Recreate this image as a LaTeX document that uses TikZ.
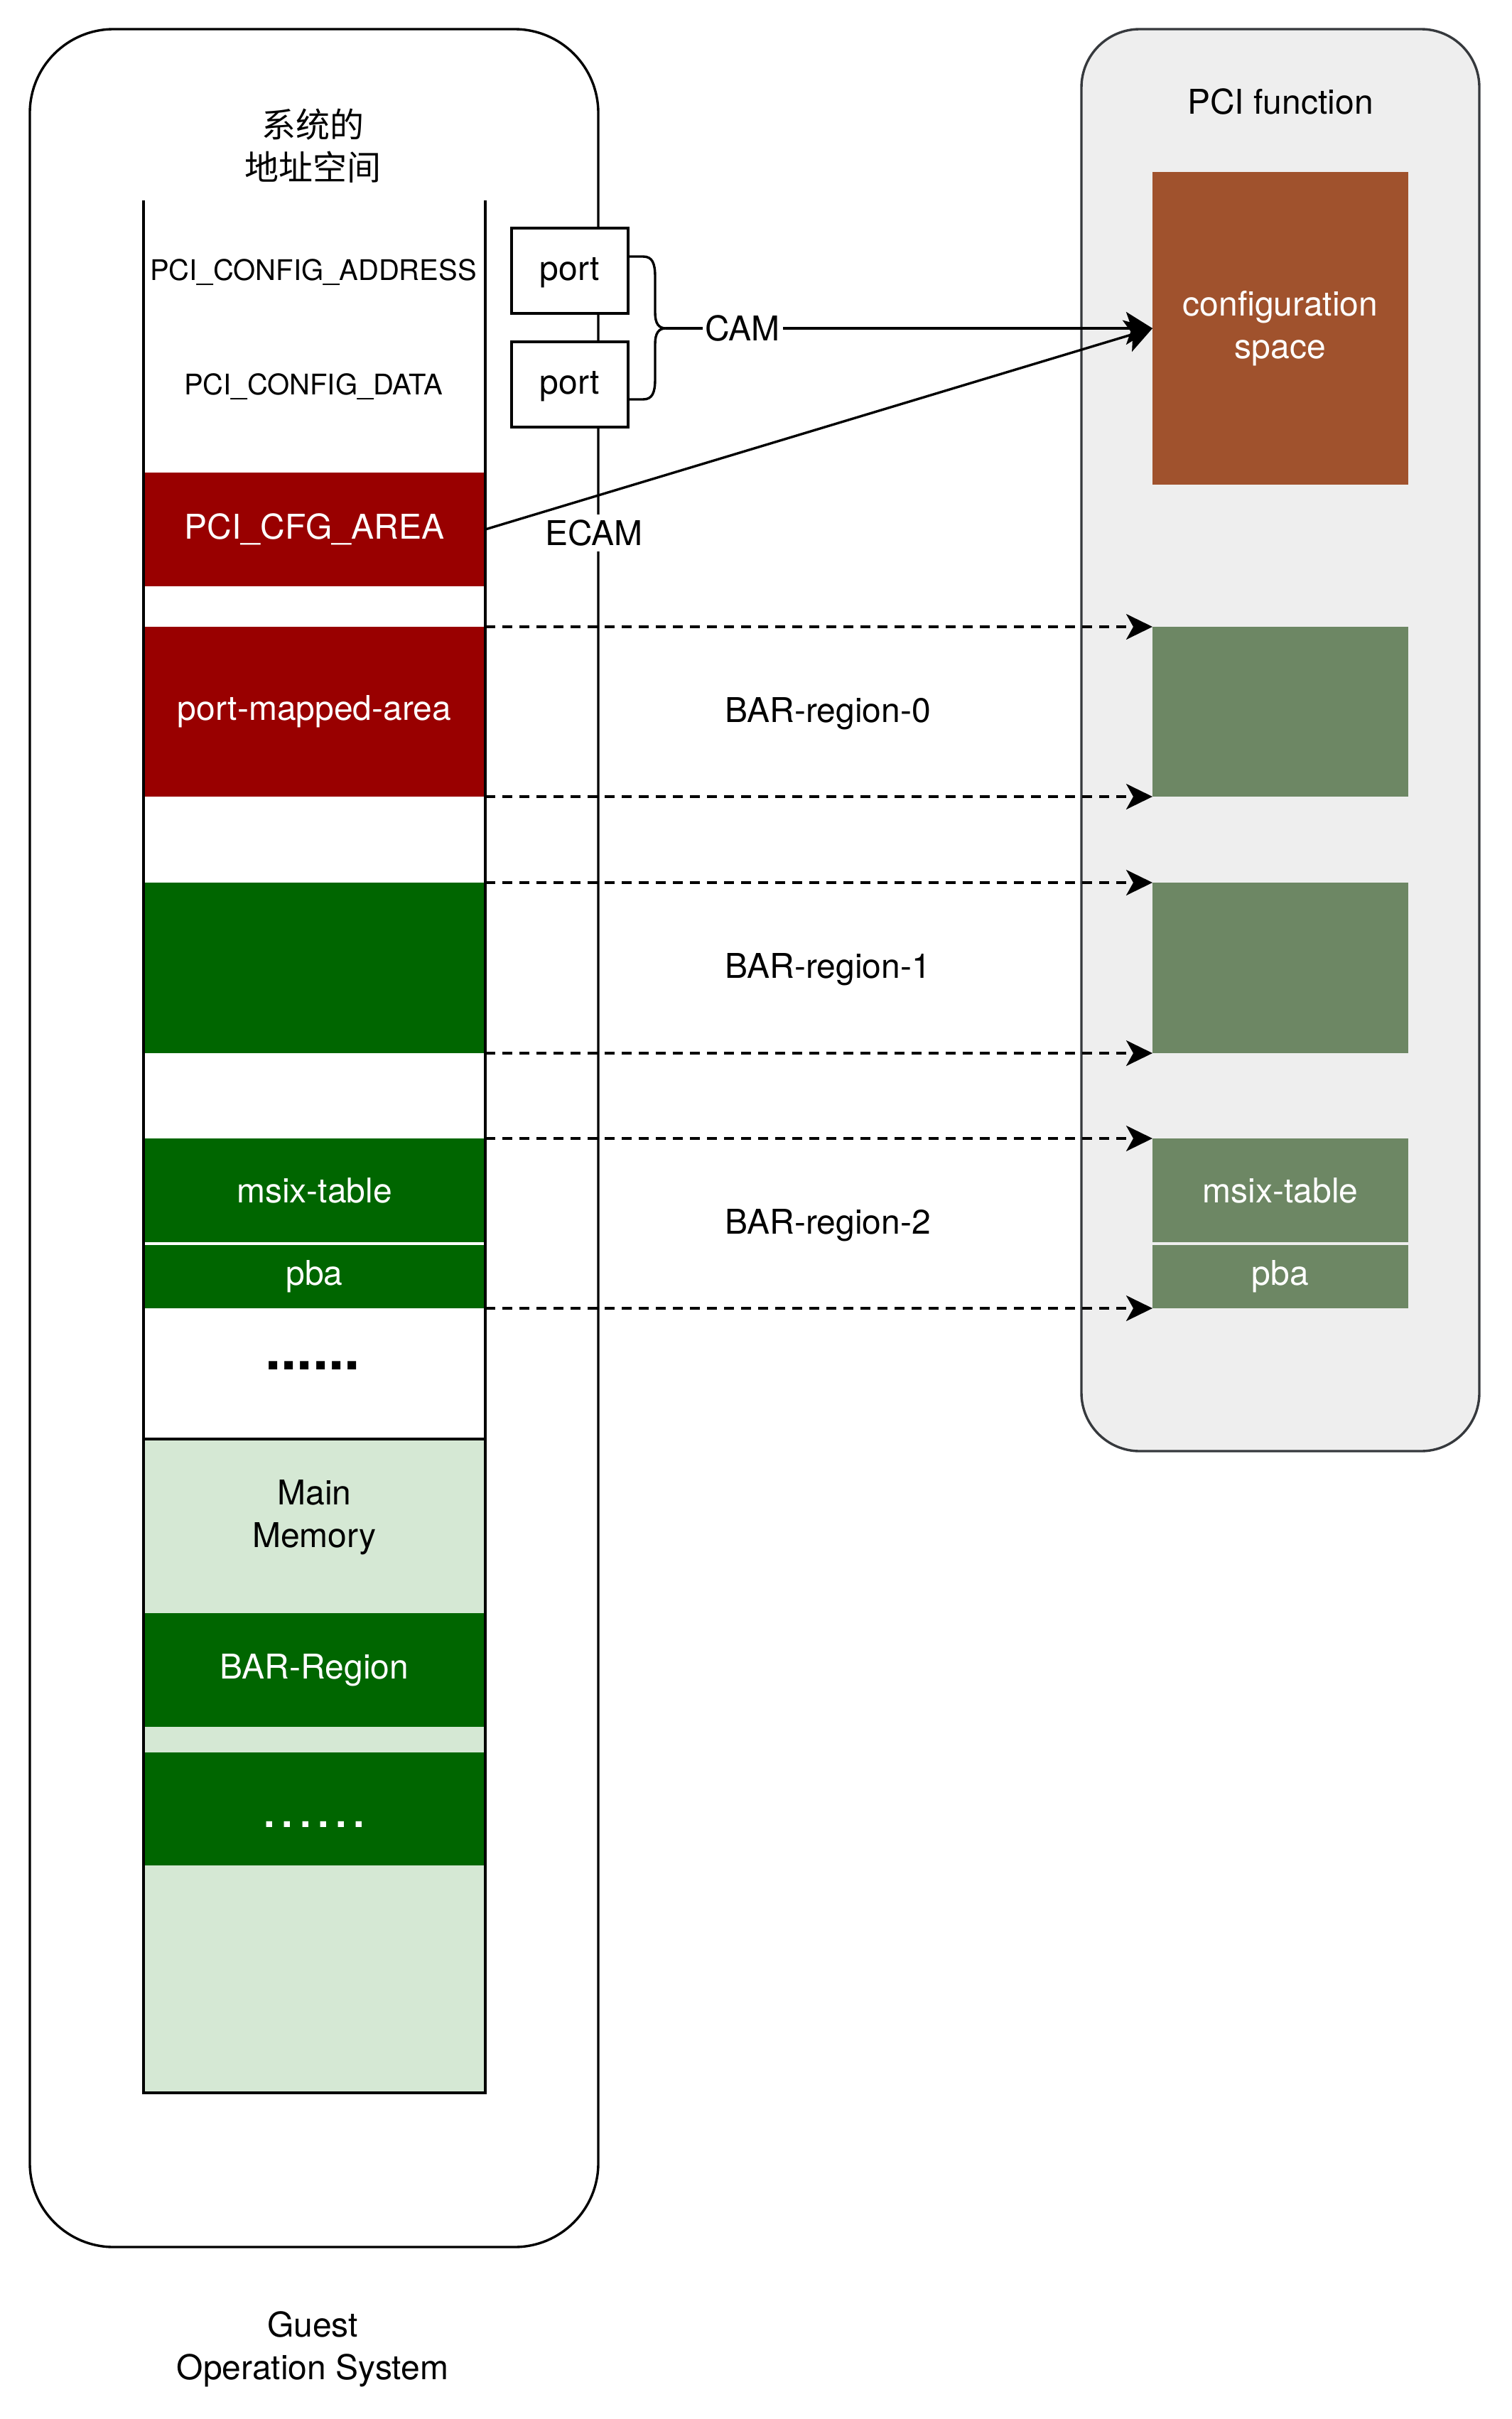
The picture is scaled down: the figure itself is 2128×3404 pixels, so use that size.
\documentclass[tikz,border=0pt]{standalone}
\usepackage{fontspec}
\setmainfont{TeX Gyre Heros}
\newfontfamily\cjk{Noto Sans CJK SC}
\usetikzlibrary{arrows.meta,positioning}

\definecolor{cfgred}{HTML}{990000}
\definecolor{bargreen}{HTML}{006600}
\definecolor{memgreen}{HTML}{D5E8D4}
\definecolor{cfgbrown}{HTML}{A0522D}
\definecolor{fngreen}{HTML}{6D8764}
\definecolor{fngray}{HTML}{EEEEEE}
\definecolor{fnedge}{HTML}{36393D}

\begin{document}
\begin{tikzpicture}[x=0.25pt, y=-0.25pt, line width=0.85pt,
                    font=\fontsize{12}{15}\selectfont]
        \tikzstyle{band} = [rectangle, inner sep=0pt, outer sep=0pt, text=white,
                                                       minimum width=120.25pt]
        \tikzstyle{fnbox} = [rectangle, inner sep=0pt, outer sep=0pt, text=white,
                             fill=fngreen, minimum width=90pt, node distance=339.875pt]
        \tikzstyle{portbox} = [rectangle, draw=black, fill=white, inner sep=0pt,
                               minimum width=41pt, minimum height=30pt,
                               text height=8pt, text depth=1.5pt]
        \tikzstyle{lbl} = [fill=white, inner sep=1pt]
        \tikzstyle{camarrow} = [-{Stealth[length=9.25pt, width=11.5pt, inset=2pt]}]
        \tikzstyle{bararrow} = [-{Stealth[length=9.25pt, width=9pt, inset=2.5pt]},
                                dash pattern=on 3.5pt off 2.5pt]

        \useasboundingbox (0,0) rectangle (2128,3404);

        % containers
        \node(guest)  [rectangle, draw=black, fill=white, rounded corners=29.5pt,
                       minimum width=200pt, minimum height=780.25pt] at (442,1601.5) {};
        \node(pcifn)  [rectangle, draw=fnedge, fill=fngray, rounded corners=20.5pt,
                       minimum width=140pt, minimum height=500.25pt] at (1802,1041.5) {};

        \node(title)  [align=center, font=\cjk\fontsize{12}{15}\selectfont] at (440,205)
                      {系统的\\地址空间};
        \node(fnname) at (1802,143) {PCI function};
        \node(guestname) [align=center] at (440,3306) {Guest\\Operation System};

        % address space of the guest
        \node(cfgaddr) [font=\fontsize{10}{12}\selectfont] at (441,383) {PCI\_CONFIG\_ADDRESS};
        \node(cfgdata) [font=\fontsize{10}{12}\selectfont] at (441,544) {PCI\_CONFIG\_DATA};
        \node(cfgarea)  [band, fill=cfgred, minimum height=40pt] at (442.5,745) {PCI\_CFG\_AREA};
        \node(portarea) [band, fill=cfgred, minimum height=59.75pt] at (442.5,1001.5) {port-mapped-area};
        \node(bar1area) [band, fill=bargreen, minimum height=60pt] at (442.5,1362) {};
        \node(msixarea) [band, fill=bargreen, minimum height=36.5pt] at (442.5,1675) {msix-table};
        \node(pbaarea)  [band, fill=bargreen, minimum height=22.25pt] at (442.5,1796.5) {pba};
        \node(moredots) [font=\bfseries\fontsize{20}{24}\selectfont] at (440,1922) {......};
        \node(mainmem)  [rectangle, draw=black, fill=memgreen, minimum width=120.25pt,
                         minimum height=230pt] at (442.5,2485) {};
        \node(memname)  [align=center] at (442.5,2135) {Main\\Memory};
        \node(barregion) [band, fill=bargreen, minimum height=40pt] at (442.5,2350) {BAR-Region};
        \node(dotsband) [band, fill=bargreen, minimum height=39.75pt] at (442.5,2545.5) {};
        \node(dotstext) [text=white, font=\bfseries\fontsize{14}{16}\selectfont] at (442.5,2567)
                        {.\hspace{2.4pt}.\hspace{2.4pt}.\hspace{2.4pt}.\hspace{2.4pt}.\hspace{2.4pt}.};
        \draw (202,282) -- (202,2945) -- (683,2945) -- (683,282);

        % PCI function
        \node(cfgspace) [rectangle, fill=cfgbrown, text=white, align=center, inner sep=0pt,
                         outer sep=0pt, minimum width=90pt, minimum height=110pt] at (1802,462)
                        {configuration\\space};
        \node(bar0)   [fnbox, minimum height=59.75pt, right of=portarea] {};
        \node(bar1)   [fnbox, minimum height=60pt, right of=bar1area] {};
        \node(msixfn) [fnbox, minimum height=36.5pt, right of=msixarea] {msix-table};
        \node(pbafn)  [fnbox, minimum height=22.25pt, right of=pbaarea] {pba};

        % ports and the two ways in
        \node(port1) [portbox] at (802,381) {port};
        \node(port2) [portbox, below of=port1, node distance=40pt] {port};
        \node(ecam)  [lbl, inner sep=2pt] at (836,750) {ECAM};

        \coordinate(camtip) at (937,462);
        \draw (883,361) -- (905,361) .. controls (918,361) and (922,370) .. (922,390)
              -- (922,440) .. controls (922,455) and (927,462) .. (camtip)
              .. controls (927,462) and (922,469) .. (922,484)
              -- (922,533) .. controls (922,553) and (918,562) .. (905,562) -- (883,562);

        \draw[camarrow] (camtip) -- node[lbl, pos=0.158] {CAM} (cfgspace.west);
        \draw[camarrow] (cfgarea.east) -- (cfgspace.west);

        \draw[bararrow] (portarea.north east) -- (bar0.north west);
        \draw[bararrow] (portarea.south east) -- (bar0.south west);
        \draw[bararrow] (bar1area.north east) -- (bar1.north west);
        \draw[bararrow] (bar1area.south east) -- (bar1.south west);
        \draw[bararrow] (msixarea.north east) -- (msixfn.north west);
        \draw[bararrow] (pbaarea.south east) -- (pbafn.south west);

        \node(bar0name) at (1165,1004) {BAR-region-0};
        \node(bar1name) at (1165,1364) {BAR-region-1};
        \node(bar2name) at (1165,1724) {BAR-region-2};
      \end{tikzpicture}
\end{document}
